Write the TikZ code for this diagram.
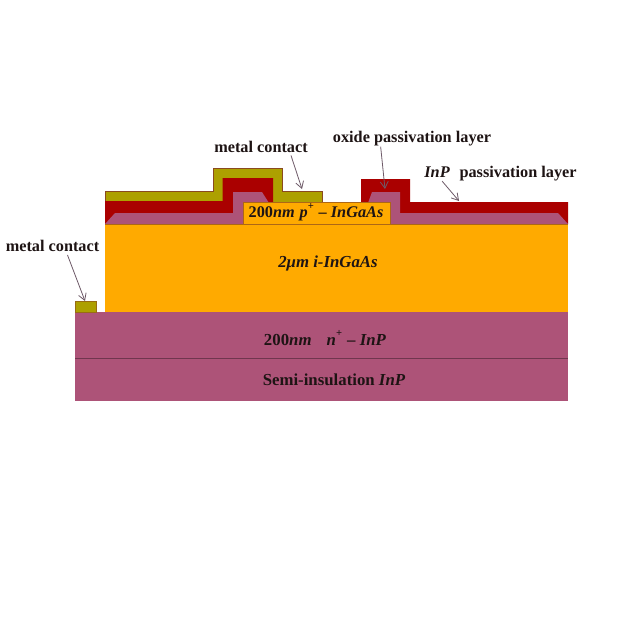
\documentclass[tikz,border=0pt]{standalone}
\usepackage{fontspec}
\setmainfont{Liberation Serif}
\usetikzlibrary{arrows.meta}
\definecolor{layerorange}{HTML}{FFAA00}
\definecolor{layerpink}{HTML}{AD5378}
\definecolor{layerred}{HTML}{AA0000}
\definecolor{layerolive}{HTML}{ADA000}
\definecolor{edgebrown}{HTML}{8A4A20}
\definecolor{inkdark}{HTML}{1E1414}
\definecolor{arrowgrey}{HTML}{6E5A68}
\newcommand{\plusup}[1]{\raisebox{#1}{\fontsize{8}{8}\selectfont\bfseries +}}
\tikzset{
  lbl/.style={font=\fontsize{12.2}{14}\selectfont\bfseries,text=inkdark,inner sep=0pt,anchor=center},
  lblwide/.style={font=\fontsize{12.6}{14}\selectfont\bfseries,text=inkdark,inner sep=0pt,anchor=center},
  pointer/.style={draw=arrowgrey,line width=0.6pt,-{Straight Barb[length=5pt,width=6pt]}}
}
\begin{document}
\begin{tikzpicture}[x=0.75pt,y=-0.75pt]
\useasboundingbox (0,0) rectangle (640,640);
\fill[white] (0,0) rectangle (640,640);
% substrate layers
\fill[layerpink] (75,312) rectangle (568,401);
\draw[layerpink!65!black,line width=0.7pt] (75,358) -- (568,358);
% absorber
\fill[layerorange] (105,224) rectangle (568,312);
% small contact
\filldraw[fill=layerolive,draw=edgebrown!60!layerolive,line width=0.4pt] (75,301) rectangle (96,312);
% top metal
\filldraw[fill=layerolive,draw=edgebrown,line width=0.6pt] (105,201) -- (105,191) -- (213,191) -- (213,168) -- (282,168) -- (282,191) -- (322,191) -- (322,202) -- (270,202) -- (270,201) -- cycle;
% InP passivation, left
\fill[layerred] (105,224) -- (105,201) -- (222.5,201) -- (222.5,178) -- (273,178) -- (273,203) -- (268,203) -- (268,224) -- cycle;
% InP passivation, right
\fill[layerred] (361,202) -- (361,179) -- (410,179) -- (410,202) -- (568,202) -- (568,224) -- (390,224) -- (390,202) -- cycle;
% oxide, left
\fill[layerpink] (105,224) -- (115,213) -- (233,213) -- (233,192) -- (262,192) -- (269,203) -- (269,224) -- cycle;
% oxide, right
\fill[layerpink] (368,203) -- (372,192) -- (400,192) -- (400,213) -- (558,213) -- (568,224) -- (390,224) -- (390,203) -- cycle;
% p+ layer
\filldraw[fill=layerorange,draw=edgebrown!70!layerorange,line width=0.5pt] (243,202.5) rectangle (390,224);
\draw[edgebrown!70!layerorange,line width=0.5pt] (105,224) -- (568,224);
% layer labels
\node[lbl] (pl) at (316,212.5) {200\textit{nm\hspace{0.3em}p}\plusup{1.05ex}\hspace{0.3em}– \textit{InGaAs}};
\node[lblwide] (il) at (328,263.5) {\textit{2μm i-InGaAs}};
\node[lblwide] (nl) at (325,338) {200\textit{nm}\hspace{0.9em}\textit{n}\plusup{1.15ex}\hspace{0.3em}– \textit{InP}};
\node[lblwide] (sl) at (334,379.5) {Semi-insulation \textit{InP}};
% callouts
\node[lbl] (m1) at (261,146.5) {metal contact};
\node[lbl] (ox) at (412,139) {oxide passivation layer};
\node[lbl] (ip) at (500.5,173.5) {\textit{InP}\hspace{0.6em}passivation layer};
\node[lbl] (m2) at (52.5,246) {metal contact};
\coordinate (m1t) at (302,189);
\coordinate (oxt) at (385,189);
\coordinate (ipt) at (459,201);
\coordinate (m2t) at (85,301);
\draw[pointer] (m1.south east) ++(-17,3) coordinate (m1s) (m1s) -- (m1t);
\draw[pointer] (ox.south west) ++(48,0) coordinate (oxs) (oxs) -- (oxt);
\draw[pointer] (ip.south west) ++(18,0) coordinate (ips) (ips) -- (ipt);
\draw[pointer] (m2.south west) ++(62,3) coordinate (m2s) (m2s) -- (m2t);
\end{tikzpicture}
\end{document}
